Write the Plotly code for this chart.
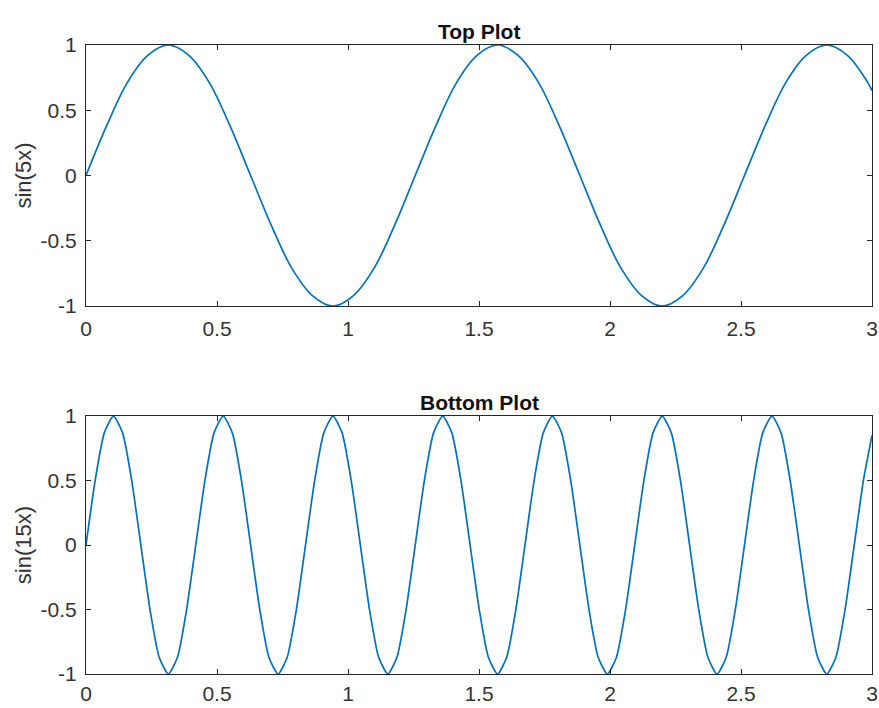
import plotly.graph_objects as go

# Top plot: sin(5x), readings at sixteenth-period positions
x_top = [0, 0.0785, 0.1571, 0.2356, 0.3142, 0.3927, 0.4712, 0.5498, 0.6283, 0.7069,
         0.7854, 0.8639, 0.9425, 1.0210, 1.0996, 1.1781, 1.2566, 1.3352, 1.4137, 1.4923,
         1.5708, 1.6493, 1.7279, 1.8064, 1.8850, 1.9635, 2.0420, 2.1206, 2.1991, 2.2777,
         2.3562, 2.4347, 2.5133, 2.5918, 2.6704, 2.7489, 2.8274, 2.9060, 2.9845, 3.0]
y_top = [0, 0.38, 0.71, 0.92, 1, 0.92, 0.71, 0.38, 0, -0.38,
         -0.71, -0.92, -1, -0.92, -0.71, -0.38, 0, 0.38, 0.71, 0.92,
         1, 0.92, 0.71, 0.38, 0, -0.38, -0.71, -0.92, -1, -0.92,
         -0.71, -0.38, 0, 0.38, 0.71, 0.92, 1, 0.92, 0.71, 0.65]

# Bottom plot: sin(15x), readings at twelfth-period positions
x_bot = [0, 0.0349, 0.0698, 0.1047, 0.1396, 0.1745, 0.2094, 0.2443, 0.2793, 0.3142,
         0.3491, 0.3840, 0.4189, 0.4538, 0.4887, 0.5236, 0.5585, 0.5934, 0.6283, 0.6632,
         0.6981, 0.7330, 0.7679, 0.8029, 0.8378, 0.8727, 0.9076, 0.9425, 0.9774, 1.0123,
         1.0472, 1.0821, 1.1170, 1.1519, 1.1868, 1.2217, 1.2566, 1.2915, 1.3265, 1.3614,
         1.3963, 1.4312, 1.4661, 1.5010, 1.5359, 1.5708, 1.6057, 1.6406, 1.6755, 1.7104,
         1.7453, 1.7802, 1.8151, 1.8501, 1.8850, 1.9199, 1.9548, 1.9897, 2.0246, 2.0595,
         2.0944, 2.1293, 2.1642, 2.1991, 2.2340, 2.2689, 2.3038, 2.3387, 2.3736, 2.4086,
         2.4435, 2.4784, 2.5133, 2.5482, 2.5831, 2.6180, 2.6529, 2.6878, 2.7227, 2.7576,
         2.7925, 2.8274, 2.8623, 2.8972, 2.9322, 2.9671, 3.0]
y_bot = [0, 0.5, 0.87, 1, 0.87, 0.5, 0, -0.5, -0.87, -1, -0.87, -0.5,
         0, 0.5, 0.87, 1, 0.87, 0.5, 0, -0.5, -0.87, -1, -0.87, -0.5,
         0, 0.5, 0.87, 1, 0.87, 0.5, 0, -0.5, -0.87, -1, -0.87, -0.5,
         0, 0.5, 0.87, 1, 0.87, 0.5, 0, -0.5, -0.87, -1, -0.87, -0.5,
         0, 0.5, 0.87, 1, 0.87, 0.5, 0, -0.5, -0.87, -1, -0.87, -0.5,
         0, 0.5, 0.87, 1, 0.87, 0.5, 0, -0.5, -0.87, -1, -0.87, -0.5,
         0, 0.5, 0.87, 1, 0.87, 0.5, 0, -0.5, -0.87, -1, -0.87, -0.5,
         0, 0.5, 0.85]

x_ticks = [0, 0.5, 1, 1.5, 2, 2.5, 3]
x_tick_text = ["0", "0.5", "1", "1.5", "2", "2.5", "3"]
y_ticks = [-1, -0.5, 0, 0.5, 1]
y_tick_text = ["-1", "-0.5", "0", "0.5", "1"]

titles = ["Top Plot", "Bottom Plot"]
ylabels = ["sin(5x)", "sin(15x)"]

LINE = "#0072BD"
FONT = "Liberation Sans, Arial, sans-serif"
TXT = "#333333"

fig = go.Figure()
fig.add_trace(go.Scatter(x=x_top, y=y_top, mode="lines",
                         line=dict(color=LINE, width=1.7, shape="spline", smoothing=1.0),
                         xaxis="x", yaxis="y", showlegend=False))
fig.add_trace(go.Scatter(x=x_bot, y=y_bot, mode="lines",
                         line=dict(color=LINE, width=1.7, shape="spline", smoothing=0.6),
                         xaxis="x2", yaxis="y2", showlegend=False))

axis_common = dict(showgrid=False, zeroline=False, showline=True, linecolor="#262626", linewidth=1,
                   mirror="ticks", ticks="inside", ticklen=5, tickcolor="#262626", automargin=False,
                   tickfont=dict(family=FONT, size=21, color=TXT))

fig.update_layout(
    width=879, height=708,
    margin=dict(l=86, r=7, t=45, b=34),
    paper_bgcolor="white", plot_bgcolor="white",
    xaxis=dict(domain=[0, 1], range=[0, 3], tickvals=x_ticks, ticktext=x_tick_text, anchor="y",
               ticklabelstandoff=4, **axis_common),
    yaxis=dict(domain=[0.585, 1], range=[-1, 1], tickvals=y_ticks, ticktext=y_tick_text, anchor="x",
               ticklabelstandoff=4,
               title=dict(text=ylabels[0], font=dict(family=FONT, size=22, color=TXT), standoff=2), **axis_common),
    xaxis2=dict(domain=[0, 1], range=[0, 3], tickvals=x_ticks, ticktext=x_tick_text, anchor="y2",
                ticklabelstandoff=1, **axis_common),
    yaxis2=dict(domain=[0, 0.41], range=[-1, 1], tickvals=y_ticks, ticktext=y_tick_text, anchor="x2",
                ticklabelstandoff=4,
                title=dict(text=ylabels[1], font=dict(family=FONT, size=22, color=TXT), standoff=2), **axis_common),
    annotations=[
        dict(text="<b>" + titles[0] + "</b>", x=0.5, y=1, xref="paper", yref="paper", xanchor="center", yanchor="bottom",
             yshift=0, showarrow=False, font=dict(family=FONT, size=21, color="#111111")),
        dict(text="<b>" + titles[1] + "</b>", x=0.5, y=0.41, xref="paper", yref="paper", xanchor="center", yanchor="bottom",
             yshift=0, showarrow=False, font=dict(family=FONT, size=21, color="#111111")),
    ],
)

fig.write_html("out.html")
